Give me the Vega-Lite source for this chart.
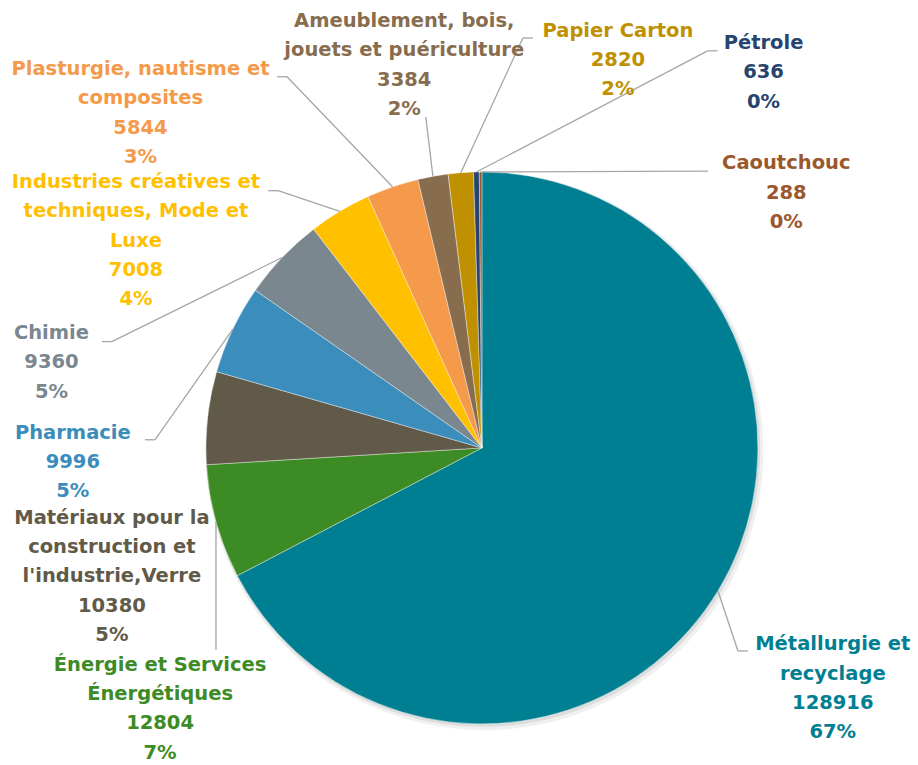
{
  "$schema": "https://vega.github.io/schema/vega-lite/v6.json",
  "width": 918,
  "height": 765,
  "autosize": {"type": "fit", "contains": "padding"},
  "padding": 0,
  "background": "white",
  "config": {"view": {"stroke": null}},
  "data": {
    "values": [
      {"sector": "Métallurgie et\nrecyclage", "value": 128916, "pct": 67},
      {"sector": "Énergie et Services\nÉnergétiques", "value": 12804, "pct": 7},
      {"sector": "Matériaux pour la\nconstruction et\nl'industrie,Verre", "value": 10380, "pct": 5},
      {"sector": "Pharmacie", "value": 9996, "pct": 5},
      {"sector": "Chimie", "value": 9360, "pct": 5},
      {"sector": "Industries créatives et\ntechniques, Mode et\nLuxe", "value": 7008, "pct": 4},
      {"sector": "Plasturgie, nautisme et\ncomposites", "value": 5844, "pct": 3},
      {"sector": "Ameublement, bois,\njouets et puériculture", "value": 3384, "pct": 2},
      {"sector": "Papier Carton", "value": 2820, "pct": 2},
      {"sector": "Pétrole", "value": 636, "pct": 0},
      {"sector": "Caoutchouc", "value": 288, "pct": 0}
    ]
  },
  "transform": [
    {"window": [{"op": "row_number", "as": "idx"}]},
    {"joinaggregate": [{"op": "sum", "field": "value", "as": "total"}]},
    {"window": [{"op": "sum", "field": "value", "as": "cum"}], "sort": [{"field": "idx"}], "frame": [null, 0]},
    {"calculate": "(datum.cum - datum.value / 2) / datum.total * 2 * PI", "as": "mid"},
    {"calculate": "datum.sector + '\\n' + datum.value + '\\n' + datum.pct + '%'", "as": "lab"},
    {"calculate": "length(split(datum.lab, '\\n'))", "as": "nlines"},
    {"calculate": "datum.mid + [3.2, -23.5, -25.4, -27.4, -32.4, -28.1, -26.65, -1.24, 23.7, 38.0, 50.3][datum.idx - 1] * PI / 180", "as": "la"},
    {"calculate": "[1.541, 1.501, 1.419, 1.483, 1.59, 1.461, 1.733, 1.416, 1.49, 1.701, 1.439][datum.idx - 1]", "as": "lr"},
    {"calculate": "datum.lr * sin(datum.la)", "as": "lx"},
    {"calculate": "datum.lr * cos(datum.la) + (datum.nlines - 1) / 2 * 29.3 / 276", "as": "ly"},
    {"calculate": "sin(datum.mid)", "as": "ex"},
    {"calculate": "cos(datum.mid)", "as": "ey"},
    {"calculate": "datum.mid + [7.2, -21.7, 0, -24.0, -27.6, -7.4, -8.8, 0.6, 10.1, 30.75, 39.5][datum.idx - 1] * PI / 180", "as": "ba"},
    {"calculate": "[1.184, 1.21, 1.0, 1.185, 1.395, 1.189, 1.519, 1.216, 1.493, 1.655, 1.295][datum.idx - 1]", "as": "br"},
    {"calculate": "[1, 0, 0, -1, -1, -1, -1, 0, 1, 1, 0][datum.idx - 1]", "as": "side"},
    {"calculate": "datum.br * sin(datum.ba)", "as": "bx"},
    {"calculate": "datum.br * cos(datum.ba)", "as": "by"},
    {"calculate": "datum.bx + datum.side * 10 / 276", "as": "cx"}
  ],
  "layer": [
    {
      "transform": [{"filter": "datum.idx == 1"}],
      "mark": {"type": "arc", "radius": 279, "theta": 0, "theta2": 6.2832, "color": "#000000", "opacity": 0.06},
      "encoding": {
        "x": {"datum": 0.009, "type": "quantitative", "scale": {"domain": [-1.746, 1.58], "nice": false, "zero": false}, "axis": null},
        "y": {"datum": -0.012, "type": "quantitative", "scale": {"domain": [-1.149, 1.623], "nice": false, "zero": false}, "axis": null}
      }
    },
    {
      "transform": [{"filter": "datum.idx == 1"}],
      "mark": {"type": "arc", "radius": 277, "theta": 0, "theta2": 6.2832, "color": "#000000", "opacity": 0.08},
      "encoding": {
        "x": {"datum": 0.005, "type": "quantitative", "scale": {"domain": [-1.746, 1.58], "nice": false, "zero": false}, "axis": null},
        "y": {"datum": -0.007, "type": "quantitative", "scale": {"domain": [-1.149, 1.623], "nice": false, "zero": false}, "axis": null}
      }
    },
    {
      "mark": {"type": "arc", "radius": 276, "stroke": "white", "strokeWidth": 0.4},
      "encoding": {
        "theta": {"field": "value", "type": "quantitative", "stack": true},
        "order": {"field": "idx", "type": "quantitative"},
        "color": {
          "field": "sector", "type": "nominal", "legend": null,
          "scale": {
            "domain": ["Métallurgie et\nrecyclage", "Énergie et Services\nÉnergétiques", "Matériaux pour la\nconstruction et\nl'industrie,Verre", "Pharmacie", "Chimie", "Industries créatives et\ntechniques, Mode et\nLuxe", "Plasturgie, nautisme et\ncomposites", "Ameublement, bois,\njouets et puériculture", "Papier Carton", "Pétrole", "Caoutchouc"],
            "range": ["#017F92", "#3D8B24", "#615A48", "#3B8DBC", "#7A878F", "#FFC000", "#F59A4A", "#876D4E", "#BF9000", "#27446E", "#9A582C"]
          }
        },
        "x": {"datum": 0, "type": "quantitative", "scale": {"domain": [-1.746, 1.58], "nice": false, "zero": false}, "axis": null},
        "y": {"datum": 0, "type": "quantitative", "scale": {"domain": [-1.149, 1.623], "nice": false, "zero": false}, "axis": null}
      }
    },
    {
      "transform": [{"filter": "datum.br > 1.001"}],
      "mark": {"type": "rule", "color": "#A6A6A6", "strokeWidth": 1.3},
      "encoding": {
        "x": {"field": "ex", "type": "quantitative", "scale": {"domain": [-1.746, 1.58], "nice": false, "zero": false}, "axis": null},
        "y": {"field": "ey", "type": "quantitative", "scale": {"domain": [-1.149, 1.623], "nice": false, "zero": false}, "axis": null},
        "x2": {"field": "bx"},
        "y2": {"field": "by"}
      }
    },
    {
      "transform": [{"filter": "datum.side != 0"}],
      "mark": {"type": "rule", "color": "#A6A6A6", "strokeWidth": 1.3},
      "encoding": {
        "x": {"field": "bx", "type": "quantitative", "scale": {"domain": [-1.746, 1.58], "nice": false, "zero": false}, "axis": null},
        "y": {"field": "by", "type": "quantitative", "scale": {"domain": [-1.149, 1.623], "nice": false, "zero": false}, "axis": null},
        "x2": {"field": "cx"},
        "y2": {"field": "by"}
      }
    },
    {
      "mark": {"type": "text", "font": "DejaVu Sans", "fontWeight": "bold", "fontSize": 19.5, "lineBreak": "\n", "lineHeight": 29.3, "align": "center", "baseline": "middle"},
      "encoding": {
        "x": {"field": "lx", "type": "quantitative", "scale": {"domain": [-1.746, 1.58], "nice": false, "zero": false}, "axis": null},
        "y": {"field": "ly", "type": "quantitative", "scale": {"domain": [-1.149, 1.623], "nice": false, "zero": false}, "axis": null},
        "text": {"field": "lab"},
        "color": {"field": "sector", "type": "nominal", "legend": null}
      }
    }
  ]
}
